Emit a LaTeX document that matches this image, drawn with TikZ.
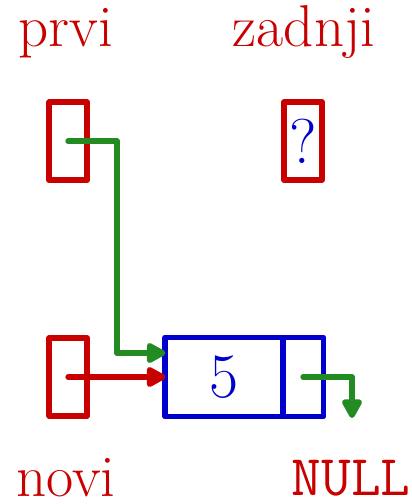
\documentclass[tikz,border=0pt]{standalone}
\usepackage{xcolor}
\usepackage{tikz}
\usetikzlibrary{positioning,arrows.meta}
\definecolor{ptrred}{RGB}{200,0,0}
\definecolor{elemblue}{RGB}{0,0,205}
\definecolor{linkgreen}{RGB}{34,139,34}
\tikzset{
    pointer/.style={draw=ptrred, line width=4.2pt, line join=round, minimum width=0.94cm, minimum height=1.95cm, inner sep=0pt, outer sep=0pt, text=elemblue, font=\fontsize{45}{47}\selectfont},
    field/.style={draw=elemblue, line width=4.2pt, line join=round, minimum height=1.975cm, inner sep=0pt, outer sep=0pt, text=elemblue, font=\fontsize{45}{47}\selectfont},
    varname/.style={text=ptrred, anchor=base, inner sep=0pt, font=\fontsize{42}{44}\selectfont},
    link/.style={line width=4.2pt, line cap=round, line join=round, -{Triangle[length=0.55cm, width=0.55cm, round]}},
}
\begin{document}
\begin{tikzpicture}[x=0.025cm, y=-0.025cm]
    \useasboundingbox (0,0) rectangle (412,504);
    \node [pointer] (prvi) at (68.25,141.25) {};
    \node [pointer] (zadnji) at (303,141) {?};
    \node [pointer] (novi) at (68.25,377) {};
    \node [field, minimum width=2.94cm] (val) at (224.25,377) {5};
    \node [field, minimum width=1.01cm, right=0pt of val] (nxt) {};

    \node [varname] (lprvi) at (66,47) {prvi};
    \node [varname] (lzadnji) at (304,47) {zadnji};
    \node [varname] (lnovi) at (66,496) {novi};
    \node [varname, font=\fontsize{41}{43}\ttfamily] (lnull) at (351,495) {NULL};
    \coordinate (null) at (352,418);

    \draw [link, linkgreen] (prvi.center) -| (117,353) -- (val.west |- 0,353);
    \draw [link, ptrred] (novi.center) -- (val.west);
    \draw [link, linkgreen] (nxt.center) -| (null);
\end{tikzpicture}
\end{document}
